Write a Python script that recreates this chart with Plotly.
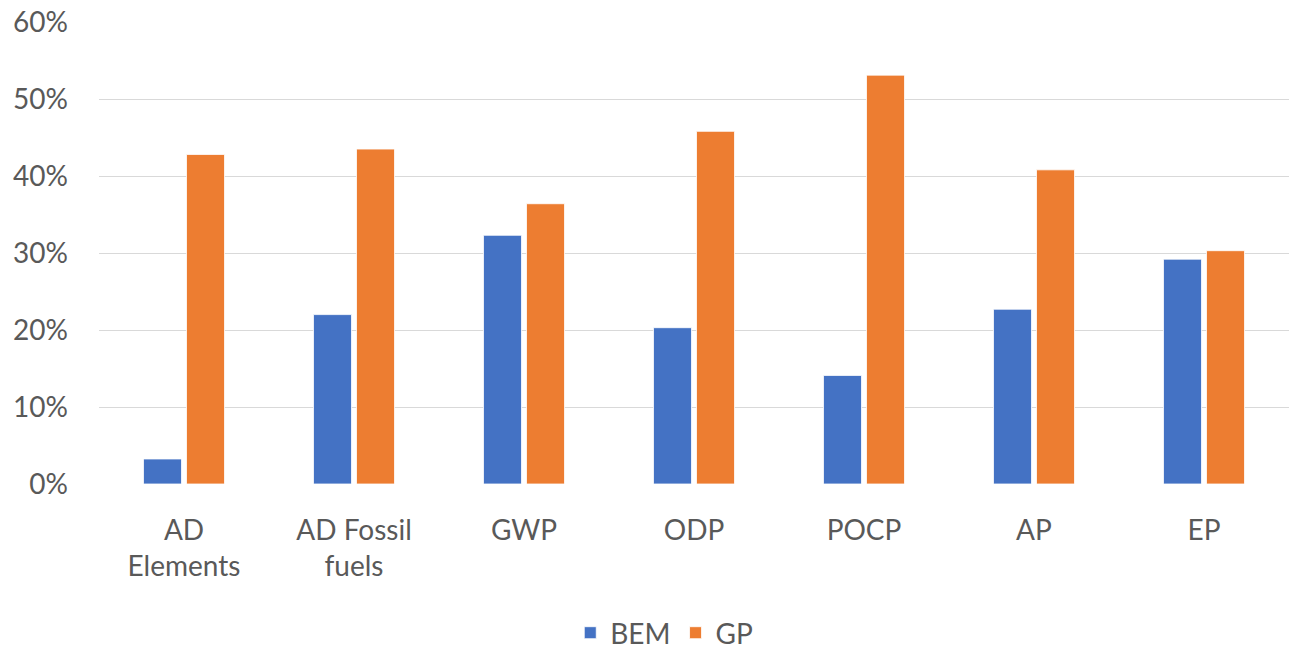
import plotly.graph_objects as go

# Impact categories and relative shares per scenario
categories = ["AD<br>Elements", "AD Fossil<br>fuels", "GWP", "ODP", "POCP", "AP", "EP"]
bem_values = [0.0325, 0.220, 0.323, 0.203, 0.141, 0.227, 0.292]
gp_values = [0.428, 0.435, 0.364, 0.458, 0.531, 0.408, 0.303]
y_ticks = [0, 0.1, 0.2, 0.3, 0.4, 0.5, 0.6]

FONT = "Lato, Calibri, Carlito, sans-serif"
TEXT = "#595959"

fig = go.Figure()
fig.add_trace(go.Bar(
    name="BEM", x=categories, y=bem_values,
    marker=dict(color="#4472C4", line=dict(color="#FFFFFF", width=0.8)),
))
fig.add_trace(go.Bar(
    name="GP", x=categories, y=gp_values,
    marker=dict(color="#ED7D31", line=dict(color="#FFFFFF", width=0.8)),
))

fig.update_layout(
    width=1292, height=658,
    margin=dict(l=99, r=3, t=22, b=174),
    paper_bgcolor="white", plot_bgcolor="white",
    barmode="group", bargap=0.494, bargroupgap=0.116,
    font=dict(family=FONT, size=28, color=TEXT),
    legend=dict(
        orientation="h", x=0.475, xanchor="center",
        yref="container", y=0.0, yanchor="bottom",
        font=dict(family=FONT, size=28, color=TEXT),
        itemwidth=30, tracegroupgap=0,
    ),
    xaxis=dict(
        showgrid=False, showline=False, zeroline=False, ticks="",
        tickfont=dict(family=FONT, size=28, color=TEXT),
        ticklabelstandoff=27, automargin=False,
    ),
    yaxis=dict(
        range=[0, 0.6], tickvals=y_ticks, tickformat=".0%",
        showgrid=True, gridcolor="#D9D9D9", gridwidth=1.3,
        zeroline=False, showline=False, ticks="",
        tickfont=dict(family=FONT, size=28, color=TEXT),
        ticklabelstandoff=30, automargin=False,
    ),
)

fig.write_html("out.html")
